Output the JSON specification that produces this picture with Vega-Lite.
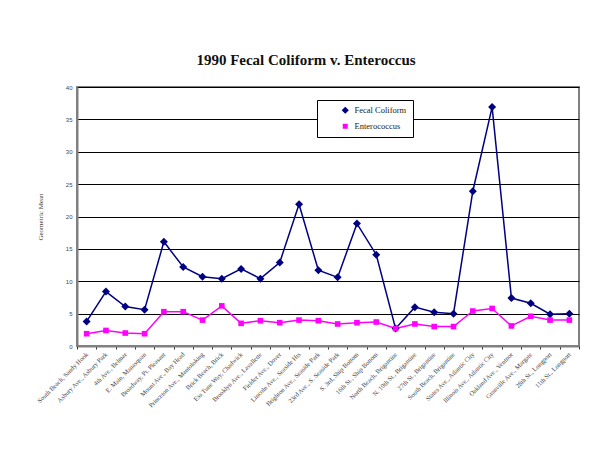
{
  "$schema": "https://vega.github.io/schema/vega-lite/v6.json",
  "autosize": {"type": "none"},
  "width": 502,
  "height": 259,
  "padding": {"left": 77, "top": 87, "right": 26, "bottom": 107},
  "background": "white",
  "title": {
    "text": "1990 Fecal Coliform v. Enteroccus",
    "font": "Liberation Serif",
    "fontSize": 15,
    "fontWeight": "bold",
    "color": "#111111",
    "offset": 16,
    "dx": -22
  },
  "data": {
    "values": [
      {"site": "South Beach, Sandy Hook", "series": "Fecal Coliform", "value": 3.8},
      {"site": "Asbury Ave., Asbury Park", "series": "Fecal Coliform", "value": 8.4},
      {"site": "4th Ave., Belmar", "series": "Fecal Coliform", "value": 6.1},
      {"site": "E. Main, Manasquan", "series": "Fecal Coliform", "value": 5.6},
      {"site": "Broadway, Pt. Pleasant", "series": "Fecal Coliform", "value": 16.1},
      {"site": "Mount Ave., Bay Head", "series": "Fecal Coliform", "value": 12.2},
      {"site": "Princeton Ave., Mantoloking", "series": "Fecal Coliform", "value": 10.7},
      {"site": "Brick Beach, Brick", "series": "Fecal Coliform", "value": 10.4},
      {"site": "Ess Tune Way, Chadwick", "series": "Fecal Coliform", "value": 11.9},
      {"site": "Brooklyn Ave., Lavallette", "series": "Fecal Coliform", "value": 10.4},
      {"site": "Fielder Ave., Dover", "series": "Fecal Coliform", "value": 12.9},
      {"site": "Lincoln Ave., Seaside Hts", "series": "Fecal Coliform", "value": 21.9},
      {"site": "Brighton Ave., Seaside Park", "series": "Fecal Coliform", "value": 11.7},
      {"site": "23rd Ave., S. Seaside Park", "series": "Fecal Coliform", "value": 10.6},
      {"site": "S. 3rd, Ship Bottom", "series": "Fecal Coliform", "value": 18.9},
      {"site": "16th St., Ship Bottom", "series": "Fecal Coliform", "value": 14.1},
      {"site": "North Beach, Brigantine", "series": "Fecal Coliform", "value": 2.7},
      {"site": "N. 10th St., Brigantine", "series": "Fecal Coliform", "value": 6.0},
      {"site": "27th St., Brigantine", "series": "Fecal Coliform", "value": 5.2},
      {"site": "South Beach, Brigantine", "series": "Fecal Coliform", "value": 5.0},
      {"site": "States Ave., Atlantic City", "series": "Fecal Coliform", "value": 23.9},
      {"site": "Illinois Ave., Atlantic City", "series": "Fecal Coliform", "value": 36.9},
      {"site": "Oakland Ave., Ventnor", "series": "Fecal Coliform", "value": 7.4},
      {"site": "Granville Ave., Margate", "series": "Fecal Coliform", "value": 6.6},
      {"site": "28th St., Longport", "series": "Fecal Coliform", "value": 4.9},
      {"site": "11th St., Longport", "series": "Fecal Coliform", "value": 5.0},
      {"site": "South Beach, Sandy Hook", "series": "Enterococcus", "value": 1.9},
      {"site": "Asbury Ave., Asbury Park", "series": "Enterococcus", "value": 2.4},
      {"site": "4th Ave., Belmar", "series": "Enterococcus", "value": 2.0},
      {"site": "E. Main, Manasquan", "series": "Enterococcus", "value": 1.9},
      {"site": "Broadway, Pt. Pleasant", "series": "Enterococcus", "value": 5.3},
      {"site": "Mount Ave., Bay Head", "series": "Enterococcus", "value": 5.3},
      {"site": "Princeton Ave., Mantoloking", "series": "Enterococcus", "value": 4.0},
      {"site": "Brick Beach, Brick", "series": "Enterococcus", "value": 6.2},
      {"site": "Ess Tune Way, Chadwick", "series": "Enterococcus", "value": 3.5},
      {"site": "Brooklyn Ave., Lavallette", "series": "Enterococcus", "value": 3.9},
      {"site": "Fielder Ave., Dover", "series": "Enterococcus", "value": 3.6},
      {"site": "Lincoln Ave., Seaside Hts", "series": "Enterococcus", "value": 4.0},
      {"site": "Brighton Ave., Seaside Park", "series": "Enterococcus", "value": 3.9},
      {"site": "23rd Ave., S. Seaside Park", "series": "Enterococcus", "value": 3.4},
      {"site": "S. 3rd, Ship Bottom", "series": "Enterococcus", "value": 3.6},
      {"site": "16th St., Ship Bottom", "series": "Enterococcus", "value": 3.7},
      {"site": "North Beach, Brigantine", "series": "Enterococcus", "value": 2.7},
      {"site": "N. 10th St., Brigantine", "series": "Enterococcus", "value": 3.4},
      {"site": "27th St., Brigantine", "series": "Enterococcus", "value": 3.0},
      {"site": "South Beach, Brigantine", "series": "Enterococcus", "value": 3.0},
      {"site": "States Ave., Atlantic City", "series": "Enterococcus", "value": 5.4},
      {"site": "Illinois Ave., Atlantic City", "series": "Enterococcus", "value": 5.8},
      {"site": "Oakland Ave., Ventnor", "series": "Enterococcus", "value": 3.1},
      {"site": "Granville Ave., Margate", "series": "Enterococcus", "value": 4.6},
      {"site": "28th St., Longport", "series": "Enterococcus", "value": 4.0},
      {"site": "11th St., Longport", "series": "Enterococcus", "value": 4.0}
    ]
  },
  "encoding": {
    "x": {
      "field": "site",
      "type": "nominal",
      "sort": null,
      "bandPosition": 0.5,
      "scale": {"type": "band", "paddingInner": 0, "paddingOuter": 0},
      "axis": {
        "title": null,
        "labelAngle": -45,
        "labelAlign": "right",
        "labelBaseline": "middle",
        "labelFont": "Liberation Serif",
        "labelFontSize": 6.5,
        "labelColor": "#444444",
        "labelPadding": 4,
        "labelDx": -8,
        "labelLimit": 0,
        "labelOverlap": false,
        "tickBand": "extent",
        "tickSize": 3,
        "tickColor": "#333333",
        "domainColor": "#808080",
        "domainWidth": 2,
        "grid": false
      }
    },
    "y": {
      "field": "value",
      "type": "quantitative",
      "scale": {"domain": [0, 40], "nice": false},
      "axis": {
        "title": "Geometric Mean",
        "titleFont": "Liberation Serif",
        "titleFontSize": 7,
        "titleFontWeight": "normal",
        "titleColor": "#444444",
        "titlePadding": 22,
        "values": [0, 5, 10, 15, 20, 25, 30, 35, 40],
        "labelFont": "Liberation Sans",
        "labelFontSize": 6,
        "labelColor": "#444444",
        "labelPadding": 5,
        "tickSize": 0,
        "domainColor": "#808080",
        "domainWidth": 2,
        "grid": true,
        "gridColor": "#000000",
        "gridWidth": 1,
        "gridOpacity": 1
      }
    },
    "color": {
      "field": "series",
      "type": "nominal",
      "sort": ["Fecal Coliform", "Enterococcus"],
      "scale": {"domain": ["Fecal Coliform", "Enterococcus"], "range": ["#000080", "#FF00FF"]},
      "legend": {
        "title": null,
        "orient": "none",
        "legendX": 240,
        "legendY": 13,
        "fillColor": "white",
        "strokeColor": "#000000",
        "padding": 6,
        "rowPadding": 5,
        "symbolSize": 25,
        "symbolOffset": 18,
        "labelOffset": 5,
        "labelFont": "Liberation Serif",
        "labelFontSize": 8.5,
        "labelColor": "#222222",
        "labelExpr": "datum.label + '              '"
      }
    }
  },
  "layer": [
    {
      "mark": {"type": "line", "strokeWidth": 1.5}
    },
    {
      "mark": {"type": "point", "filled": true, "opacity": 1, "size": 64},
      "encoding": {
        "shape": {
          "field": "series",
          "type": "nominal",
          "scale": {"domain": ["Fecal Coliform", "Enterococcus"], "range": ["M0,-1L1,0L0,1L-1,0Z", "M-0.7,-0.7L0.7,-0.7L0.7,0.7L-0.7,0.7Z"]},
          "legend": null
        }
      }
    }
  ],
  "config": {
    "view": {"stroke": "#808080", "strokeWidth": 2},
    "legend": {"labelFont": "Liberation Serif"}
  }
}
